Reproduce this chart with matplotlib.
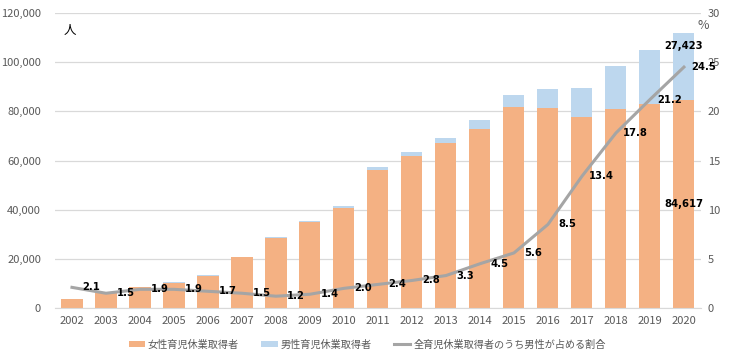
import matplotlib
matplotlib.use("Agg")
import matplotlib.pyplot as plt
from matplotlib.ticker import FuncFormatter, MultipleLocator

plt.rcParams['font.family'] = ['Noto Sans CJK JP', 'DejaVu Sans']

years = [str(y) for y in range(2002, 2021)]
female = [3650, 6500, 8500, 10300, 13000, 20600, 28400, 34900, 40600, 56000,
          61800, 67000, 73000, 81800, 81500, 77500, 81000, 82800, 84617]
male = [80, 100, 165, 200, 225, 315, 345, 500, 830, 1400,
        1800, 2300, 3400, 4850, 7570, 12000, 17540, 22280, 27423]
male_share = [2.1, 1.5, 1.9, 1.9, 1.7, 1.5, 1.2, 1.4, 2.0, 2.4,
              2.8, 3.3, 4.5, 5.6, 8.5, 13.4, 17.8, 21.2, 24.5]

labels = ['女性育児休業取得者', '男性育児休業取得者', '全育児休業取得者のうち男性が占める割合']

c_f = '#F4B183'
c_m = '#BDD7EE'
c_l = '#A5A5A5'
tc = '#595959'
lab_font = dict(family='DejaVu Sans', fontsize=7.2, fontweight='bold', color='black')

fig = plt.figure(figsize=(7.30, 3.61), dpi=100)
ax = fig.add_axes([0.0753, 0.1468, 0.8849, 0.8172])
x = list(range(len(years)))
b1 = ax.bar(x, female, width=0.62, color=c_f, label=labels[0], zorder=2)
b2 = ax.bar(x, male, width=0.62, bottom=female, color=c_m, label=labels[1], zorder=2)
ax.set_xlim(-0.5, len(years) - 0.5)
ax.set_ylim(0, 120000)
ax.yaxis.set_major_locator(MultipleLocator(20000))
ax.yaxis.set_major_formatter(FuncFormatter(lambda v, p: f'{int(v):,}'))
ax.set_xticks(x)
ax.set_xticklabels(years)
ax.grid(axis='y', color='#D9D9D9', linewidth=0.9, zorder=0)
for s in ['top', 'right', 'left']:
    ax.spines[s].set_visible(False)
ax.spines['bottom'].set_color('#D9D9D9')
ax.tick_params(axis='both', length=0, colors=tc, labelsize=8)
ax.tick_params(axis='y', pad=10)
ax.tick_params(axis='x', pad=6)

# bar labels for 2020
i = len(years) - 1
ax.text(x[i], female[i] / 2, f'{female[i]:,}', ha='center', va='center', zorder=5, **lab_font)
ax.text(x[i], female[i] + male[i] - 5300, f'{male[i]:,}', ha='center', va='center',
        zorder=5, **lab_font)

ax2 = ax.twinx()
ln, = ax2.plot(x, male_share, color=c_l, linewidth=2.2, label=labels[2], zorder=3)
ax2.set_ylim(0, 30)
ax2.yaxis.set_major_locator(MultipleLocator(5))
for s in ['top', 'right', 'left', 'bottom']:
    ax2.spines[s].set_visible(False)
ax2.tick_params(axis='y', length=0, colors=tc, labelsize=8, pad=5)
for xi, v in zip(x, male_share):
    ax2.annotate(f'{v:.1f}', (xi, v), xytext=(14, 0), textcoords='offset points',
                 ha='center', va='center', **lab_font)

fig.text(0.096, 0.915, '人', fontsize=9, color='black', ha='center', va='center')
fig.text(0.963, 0.93, '%', fontsize=9, color=tc, ha='center', va='center')

fig.legend([b1, b2, ln], labels, loc='center', bbox_to_anchor=(0.503, 0.045), ncol=3,
           frameon=False, fontsize=7.3, labelcolor=tc, handlelength=1.6,
           handleheight=0.6, columnspacing=2.2, handletextpad=0.3)

fig.savefig('out.png', dpi=100)
